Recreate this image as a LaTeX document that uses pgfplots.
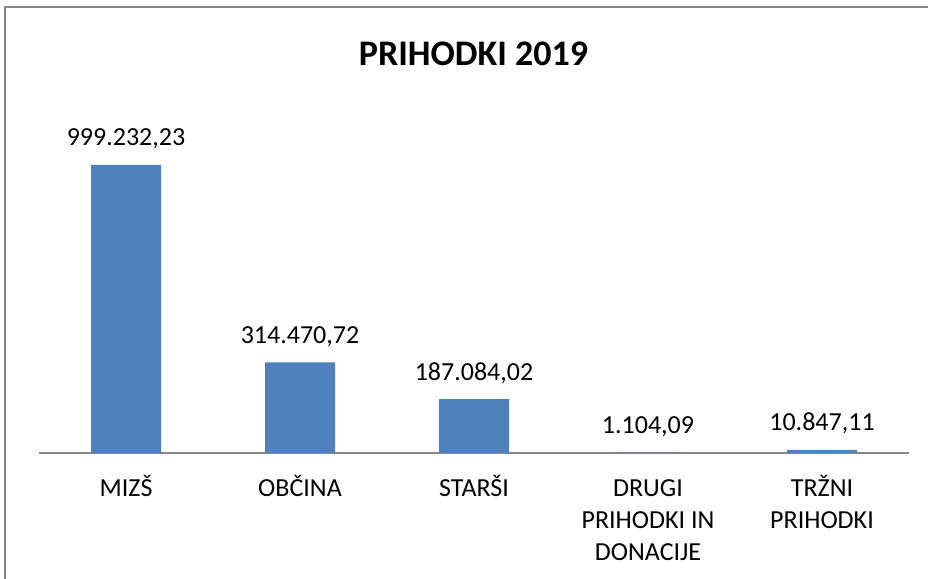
\documentclass[border=0pt]{standalone}
\usepackage{fontspec}
\setmainfont{Carlito}
\usepackage{pgfplots}
\usepackage{pgfplotstable}
\pgfplotsset{compat=1.18}
\definecolor{barblue}{HTML}{4F81BD}
\definecolor{framegray}{HTML}{878787}
\pgfplotstableread{
x y label
0 999232.23 {999.232,23}
1 314470.72 {314.470,72}
2 187084.02 {187.084,02}
3 1104.09 {1.104,09}
4 10847.11 {10.847,11}
}\prihodki
\begin{document}
\begin{tikzpicture}
\useasboundingbox (0,0) rectangle (928bp,579bp);
\draw[framegray, line width=1.5bp] (5bp,-2bp) -- (5bp,572bp) -- (930bp,572bp);
\node[anchor=base, inner sep=0pt, font=\fontsize{36bp}{43bp}\selectfont\bfseries] at (473.5bp,513bp) {PRIHODKI 2019};
\begin{axis}[
  at={(39bp,126bp)}, anchor=south west,
  scale only axis, width=870bp, height=353bp,
  xmin=-0.5, xmax=4.5, ymin=0, ymax=1224754,
  axis x line=bottom, axis y line=none,
  x axis line style={-, draw=framegray, line width=1.5bp},
  xtick=data,
  xticklabels={{\strut MIZŠ},{\strut OBČINA},{\strut STARŠI},{\strut DRUGI\\PRIHODKI IN\\DONACIJE},{\strut TRŽNI\\PRIHODKI}},
  major tick length=0pt,
  xticklabel style={font=\fontsize{26bp}{32bp}\selectfont, align=center, anchor=north, inner sep=0pt, yshift=-20.5bp},
  ybar, bar width=70bp,
  nodes near coords,
  point meta=explicit symbolic,
  nodes near coords style={font=\fontsize{26bp}{32bp}\selectfont, anchor=base, inner sep=0pt, yshift=19bp},
  clip=false,
]
\addplot[fill=barblue, draw=none] table[x=x, y=y, meta=label]{\prihodki};
\end{axis}
\end{tikzpicture}
\end{document}
